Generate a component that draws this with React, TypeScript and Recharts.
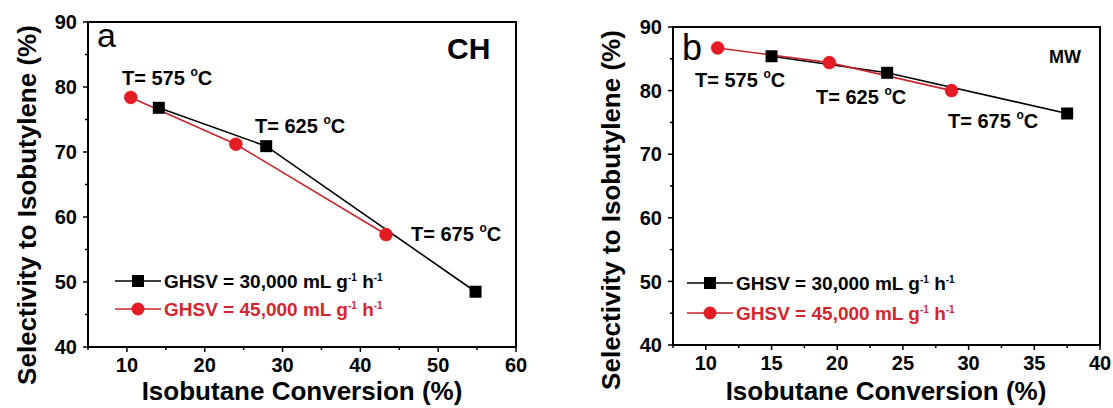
import React from "react";
import { LineChart, Line, XAxis, YAxis, ReferenceArea, Legend } from "recharts";

// panel a (CH) - isobutane conversion (%) vs selectivity (%)
const convA30 = [14.1, 27.9, 54.8];
const selA30 = [76.8, 70.9, 48.5];
const convA45 = [10.5, 24.0, 43.3];
const selA45 = [78.4, 71.2, 57.3];

// panel b (MW)
const convB30 = [15.0, 23.8, 37.5];
const selB30 = [85.4, 82.8, 76.4];
const convB45 = [10.9, 19.4, 28.7];
const selB45 = [86.7, 84.4, 80.0];

const temps = ["575", "625", "675"];
const flows = ["30,000", "45,000"];

const xTicksA = [5, 10, 15, 20, 25, 30, 35, 40, 45, 50, 55, 60];
const xMajorA = [10, 20, 30, 40, 50, 60];
const xTicksB = [7.5, 10, 12.5, 15, 17.5, 20, 22.5, 25, 27.5, 30, 32.5, 35, 37.5, 40];
const xMajorB = [10, 15, 20, 25, 30, 35, 40];
const yTicks = [40, 45, 50, 55, 60, 65, 70, 75, 80, 85, 90];
const yMajor = [40, 50, 60, 70, 80, 90];

const FONT = "'Liberation Sans', Arial, sans-serif";
const RED = "#e31b23";
const RED_LINE = "#c9252c";
const RED_TEXT = "#d3262e";
const TICK_SIZE = 5;
const TICK_GAP = 6;

const pts = (xs: number[], ys: number[]) => xs.map((x, i) => ({ x, y: ys[i] }));

const makeXTick = (major: number[]) => (props: any) => {
  const { x, y, payload } = props;
  const isMajor = major.includes(payload.value);
  const axisY = y - TICK_SIZE - TICK_GAP;
  return (
    <g>
      <line x1={x} x2={x} y1={axisY} y2={axisY + (isMajor ? 5 : 3)} stroke="#000" strokeWidth={1.5} />
      {isMajor && (
        <text x={x} y={y} dy="0.71em" textAnchor="middle" fontFamily={FONT} fontWeight={700} fontSize={20} fill="#000">
          {payload.value}
        </text>
      )}
    </g>
  );
};

const makeYTick = (major: number[]) => (props: any) => {
  const { x, y, payload } = props;
  const isMajor = major.includes(payload.value);
  const axisX = x + TICK_SIZE + TICK_GAP;
  return (
    <g>
      <line x1={axisX - (isMajor ? 5 : 3)} x2={axisX} y1={y} y2={y} stroke="#000" strokeWidth={1.5} />
      {isMajor && (
        <text x={x} y={y} dy="0.36em" textAnchor="end" fontFamily={FONT} fontWeight={700} fontSize={20} fill="#000">
          {payload.value}
        </text>
      )}
    </g>
  );
};

const squareDot = (props: any) => (
  <rect key={`sq-${props.index}`} x={props.cx - 6} y={props.cy - 6} width={12} height={12} fill="#000" />
);

const LegendBox = ({ rowH, lineW }: { rowH: number; lineW: number }) => (
  <div style={{ fontFamily: FONT, fontWeight: 700, fontSize: 19, lineHeight: 1 }}>
    {flows.map((f, i) => (
      <div
        key={f}
        style={{ display: "flex", alignItems: "center", height: rowH, whiteSpace: "nowrap", color: i === 0 ? "#000" : RED_TEXT }}
      >
        <svg width={lineW + 3} height={20} style={{ display: "block" }}>
          <line x1={0} y1={10} x2={lineW} y2={10} stroke={i === 0 ? "#000" : RED_LINE} strokeWidth={1.6} />
          {i === 0 ? (
            <rect x={lineW / 2 - 6} y={4} width={12} height={12} fill="#000" />
          ) : (
            <circle cx={lineW / 2} cy={10} r={6.5} fill={RED} />
          )}
        </svg>
        <span>
          GHSV = {f} mL g<sup style={{ fontSize: 10, verticalAlign: 7 }}>-1</sup> h
          <sup style={{ fontSize: 10, verticalAlign: 7 }}>-1</sup>
        </span>
      </div>
    ))}
  </div>
);

interface PanelProps {
  left: number;
  width: number;
  top: number;
  right: number;
  yAxisWidth: number;
  xAxisHeight: number;
  xDomain: [number, number];
  xTicks: number[];
  xMajor: number[];
  s30: { x: number; y: number }[];
  s45: { x: number; y: number }[];
  legendLeft: number;
  legendTop: number;
  rowH: number;
  lineW: number;
}

function Panel(p: PanelProps) {
  return (
    <div style={{ position: "absolute", left: p.left, top: 0 }}>
      <LineChart width={p.width} height={408} margin={{ top: p.top, right: p.right, bottom: 0, left: 0 }}>
        <XAxis
          type="number"
          dataKey="x"
          domain={p.xDomain}
          ticks={p.xTicks}
          interval={0}
          allowDataOverflow
          height={p.xAxisHeight}
          tickSize={TICK_SIZE}
          tickMargin={TICK_GAP}
          tickLine={false}
          axisLine={{ stroke: "#000", strokeWidth: 2 }}
          tick={makeXTick(p.xMajor)}
        />
        <YAxis
          type="number"
          domain={[40, 90]}
          ticks={yTicks}
          interval={0}
          allowDataOverflow
          width={p.yAxisWidth}
          tickSize={TICK_SIZE}
          tickMargin={TICK_GAP}
          tickLine={false}
          axisLine={{ stroke: "#000", strokeWidth: 2 }}
          tick={makeYTick(yMajor)}
        />
        <ReferenceArea
          x1={p.xDomain[0]}
          x2={p.xDomain[1]}
          y1={40}
          y2={90}
          fill="none"
          fillOpacity={0}
          stroke="#000"
          strokeWidth={2}
        />
        <Line
          data={p.s30}
          dataKey="y"
          type="linear"
          stroke="#000"
          strokeWidth={1.6}
          dot={squareDot}
          activeDot={false}
          isAnimationActive={false}
        />
        <Line
          data={p.s45}
          dataKey="y"
          type="linear"
          stroke={RED_LINE}
          strokeWidth={1.6}
          dot={{ r: 6.5, fill: RED, stroke: RED, strokeWidth: 0.5 }}
          activeDot={false}
          isAnimationActive={false}
        />
        <Legend
          layout="vertical"
          align="center"
          verticalAlign="middle"
          wrapperStyle={{ left: p.legendLeft, top: p.legendTop, width: "auto" }}
          content={() => <LegendBox rowH={p.rowH} lineW={p.lineW} />}
        />
      </LineChart>
    </div>
  );
}

const TempText = ({ x, y, t }: { x: number; y: number; t: string }) => (
  <text x={x} y={y} fontFamily={FONT} fontWeight={700} fontSize={20} fill="#000">
    T= {t} <tspan fontSize={12} dy={-9}>o</tspan>
    <tspan dy={9}>C</tspan>
  </text>
);

const tempPosA = [
  [122, 85],
  [255, 133],
  [411, 241],
];
const tempPosB = [
  [695, 87],
  [816, 104],
  [948, 128],
];

export default function App() {
  const title = { fontFamily: FONT, fontWeight: 700, fontSize: 26, fill: "#000" } as const;
  return (
    <div style={{ position: "absolute", left: 0, top: 0, width: 1113, height: 408, background: "#fff", overflow: "hidden" }}>
      <Panel
        left={0}
        width={560}
        top={22}
        right={44}
        yAxisWidth={88}
        xAxisHeight={61}
        xDomain={[5, 60]}
        xTicks={xTicksA}
        xMajor={xMajorA}
        s30={pts(convA30, selA30)}
        s45={pts(convA45, selA45)}
        legendLeft={115}
        legendTop={267}
        rowH={28}
        lineW={46}
      />
      <Panel
        left={560}
        width={553}
        top={27}
        right={13}
        yAxisWidth={113}
        xAxisHeight={63}
        xDomain={[7.5, 40]}
        xTicks={xTicksB}
        xMajor={xMajorB}
        s30={pts(convB30, selB30)}
        s45={pts(convB45, selB45)}
        legendLeft={127}
        legendTop={268}
        rowH={30}
        lineW={46}
      />
      <svg width={1113} height={408} style={{ position: "absolute", left: 0, top: 0, pointerEvents: "none" }}>
        <text x={27} y={205} transform="rotate(-90 27 205)" textAnchor="middle" dominantBaseline="central" {...title}>
          Selectivity to Isobutylene (%)
        </text>
        <text x={611} y={210} transform="rotate(-90 611 210)" textAnchor="middle" dominantBaseline="central" {...title}>
          Selectivity to Isobutylene (%)
        </text>
        <text x={302} y={400} textAnchor="middle" {...title}>
          Isobutane Conversion (%)
        </text>
        <text x={886} y={400} textAnchor="middle" {...title}>
          Isobutane Conversion (%)
        </text>
        <text x={97} y={47} fontFamily={FONT} fontSize={34} fill="#000">a</text>
        <text x={447} y={59} fontFamily={FONT} fontWeight={700} fontSize={30} fill="#000">CH</text>
        <text x={682} y={60} fontFamily={FONT} fontSize={36} fill="#000">b</text>
        <text x={1049} y={63} fontFamily={FONT} fontWeight={700} fontSize={18} fill="#000">MW</text>
        {temps.map((t, i) => (
          <TempText key={`a${t}`} x={tempPosA[i][0]} y={tempPosA[i][1]} t={t} />
        ))}
        {temps.map((t, i) => (
          <TempText key={`b${t}`} x={tempPosB[i][0]} y={tempPosB[i][1]} t={t} />
        ))}
      </svg>
    </div>
  );
}
